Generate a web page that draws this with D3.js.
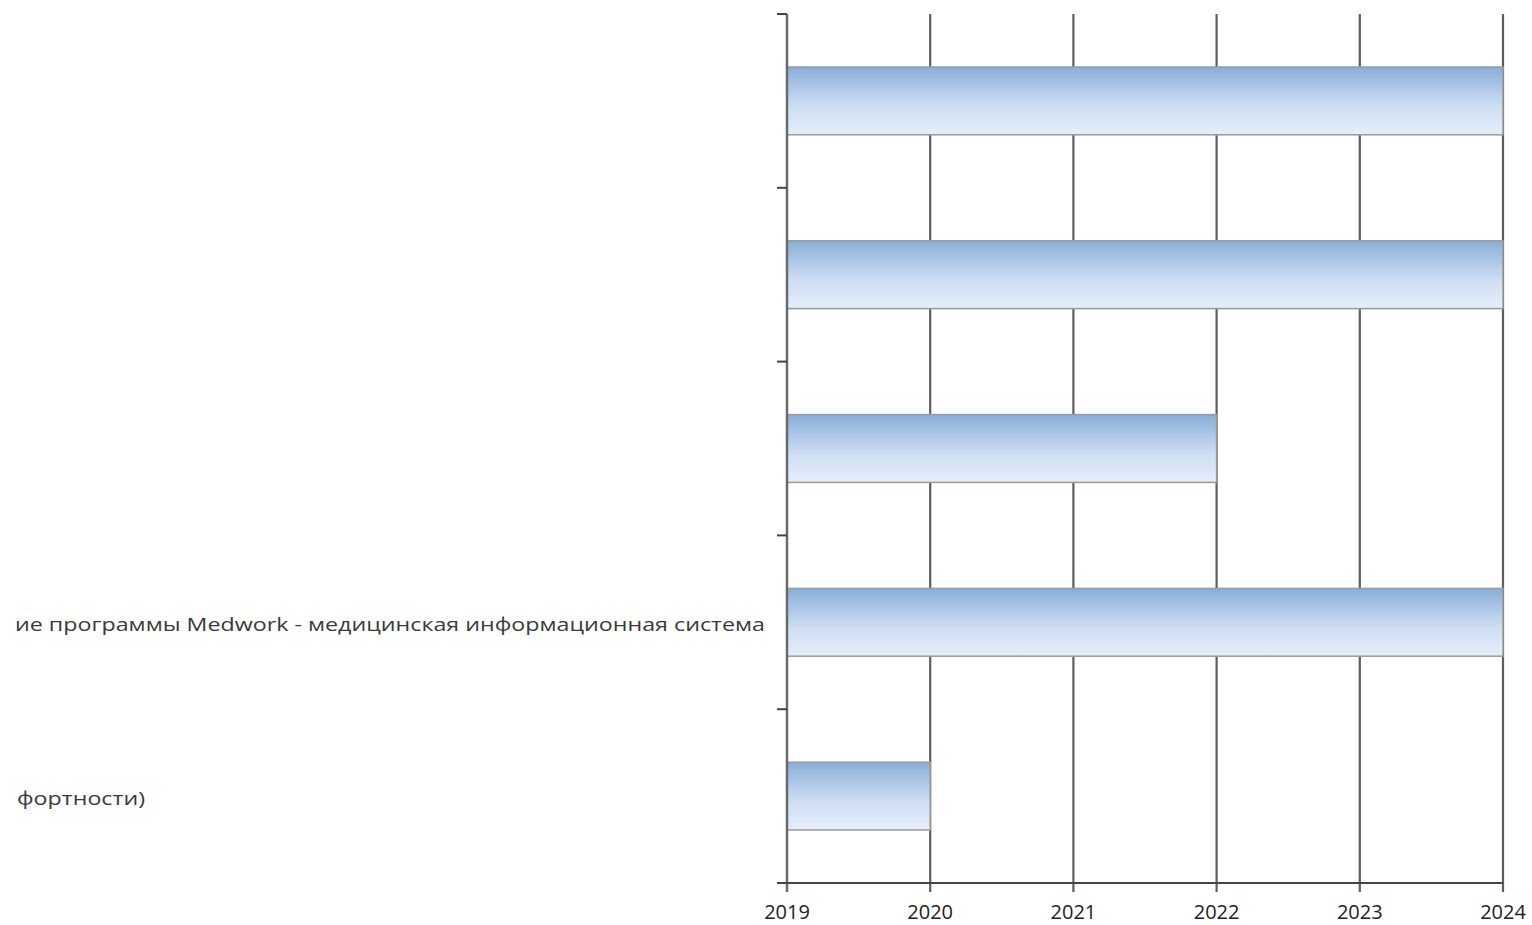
<!DOCTYPE html>
<html>
<head>
<meta charset="utf-8">
<script src="https://cdn.jsdelivr.net/npm/d3@7"></script>
<style>
  html, body { margin: 0; padding: 0; background: #fff; }
  svg { display: block; }
  text { font-family: "Open Sans", "Noto Sans", sans-serif; fill: #333; }
</style>
</head>
<body>
<svg id="chart" width="1532" height="925"></svg>
<script>
// Category keys (top to bottom) and their label text
const categories = ["p1", "p2", "p3", "p4", "p5"];
const categoryLabels = [
  "",
  "",
  "",
  "ие программы Medwork - медицинская информационная система",
  "фортности)"
];
// Year each task starts and ends
const startYears = [2019, 2019, 2019, 2019, 2019];
const endYears = [2024, 2024, 2022, 2024, 2020];
// X axis tick labels
const yearTicks = [2019, 2020, 2021, 2022, 2023, 2024];

const svg = d3.select("#chart");
const plot = { left: 787, right: 1503, top: 14, bottom: 883 };

const x = d3.scaleLinear().domain([2019, 2024]).range([plot.left, plot.right]);
const y = d3.scaleBand().domain(categories)
  .range([plot.top, plot.bottom])
  .paddingInner(0.61).paddingOuter(0.305);
const step = y.step();

const defs = svg.append("defs");
const grad = defs.append("linearGradient").attr("id", "barFill")
  .attr("x1", 0).attr("y1", 0).attr("x2", 0).attr("y2", 1);
grad.append("stop").attr("offset", "0%").attr("stop-color", "#8aaed6");
grad.append("stop").attr("offset", "35%").attr("stop-color", "#b3cbea");
grad.append("stop").attr("offset", "60%").attr("stop-color", "#cfdff4");
grad.append("stop").attr("offset", "100%").attr("stop-color", "#e6eefa");

const soft = defs.append("filter").attr("id", "soft");
soft.append("feGaussianBlur").attr("stdDeviation", 0.6);

defs.append("clipPath").attr("id", "labelClip")
  .append("rect").attr("x", 15).attr("y", 0).attr("width", 760).attr("height", 925);

// Vertical grid lines, extending below the axis as tick marks
svg.append("g").attr("filter", "url(#soft)")
  .selectAll("line").data(yearTicks.slice(1)).join("line")
  .attr("x1", d => x(d)).attr("x2", d => x(d))
  .attr("y1", plot.top).attr("y2", plot.bottom + 9)
  .attr("stroke", "#5e5e5e").attr("stroke-width", 2.2);

// Bars
svg.append("g").selectAll("rect").data(categories).join("rect")
  .attr("x", (d, i) => x(startYears[i]))
  .attr("y", d => y(d))
  .attr("width", (d, i) => x(endYears[i]) - x(startYears[i]))
  .attr("height", y.bandwidth())
  .attr("fill", "url(#barFill)")
  .attr("stroke", "#9a9a9a").attr("stroke-width", 1.5);

// Axes
const axes = svg.append("g").attr("filter", "url(#soft)");
axes.append("line")
  .attr("x1", plot.left).attr("x2", plot.left)
  .attr("y1", plot.top).attr("y2", plot.bottom + 9)
  .attr("stroke", "#6a6a6a").attr("stroke-width", 2.5);
axes.append("line")
  .attr("x1", plot.left - 10).attr("x2", plot.right)
  .attr("y1", plot.bottom).attr("y2", plot.bottom)
  .attr("stroke", "#444").attr("stroke-width", 2);
axes.selectAll(".ytick").data(d3.range(categories.length)).join("line")
  .attr("class", "ytick")
  .attr("x1", plot.left - 10).attr("x2", plot.left)
  .attr("y1", i => plot.top + i * step).attr("y2", i => plot.top + i * step)
  .attr("stroke", "#444").attr("stroke-width", 2);

// Year labels
svg.append("g").selectAll("text").data(yearTicks).join("text")
  .attr("x", d => x(d)).attr("y", 919)
  .attr("text-anchor", "middle")
  .style("font-size", "20px")
  .style("fill", "#222")
  .text(d => d);

// Category labels
svg.append("g").attr("clip-path", "url(#labelClip)")
  .selectAll("text").data(categories).join("text")
  .attr("x", (d, i) => i === 3 ? 15 : 17)
  .attr("y", d => y(d) + y.bandwidth() / 2 + 2)
  .attr("dy", "0.35em")
  .style("font-size", "19px")
  .style("fill", "#3a3a3a")
  .each(function(d, i) {
    const t = d3.select(this).text(categoryLabels[i]);
    if (i === 3) t.attr("textLength", 750).attr("lengthAdjust", "spacingAndGlyphs");
    if (i === 4) t.attr("textLength", 128).attr("lengthAdjust", "spacingAndGlyphs");
  });
</script>
</body>
</html>
